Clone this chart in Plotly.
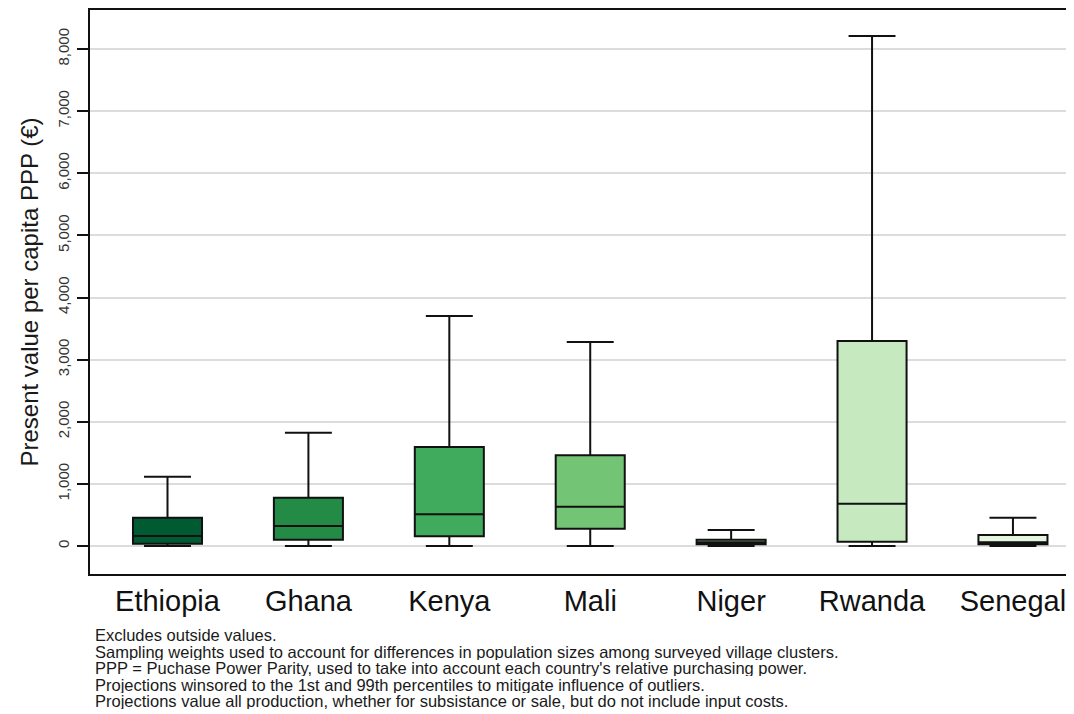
import plotly.graph_objects as go

countries = ["Ethiopia", "Ghana", "Kenya", "Mali", "Niger", "Rwanda", "Senegal"]
lower = [0, 0, 0, 0, 0, 0, 0]
q1 = [37, 101, 156, 279, 27, 69, 30]
median = [160, 322, 510, 633, 60, 681, 60]
q3 = [455, 778, 1594, 1460, 101, 3300, 177]
upper = [1116, 1825, 3704, 3285, 258, 8210, 456]
colors = ["#005a32", "#238b45", "#41ab5d", "#74c476", "#a1d99b", "#c7e9c0", "#e5f5e0"]

y_ticks = [0, 1000, 2000, 3000, 4000, 5000, 6000, 7000, 8000]
y_ticklabels = ["0", "1,000", "2,000", "3,000", "4,000", "5,000", "6,000", "7,000", "8,000"]

notes = [
    "Excludes outside values.",
    "Sampling weights used to account for differences in population sizes among surveyed village clusters.",
    "PPP = Puchase Power Parity, used to take into account each country's relative purchasing power.",
    "Projections winsored to the 1st and 99th percentiles to mitigate influence of outliers.",
    "Projections value all production, whether for subsistance or sale, but do not include input costs.",
]

fig = go.Figure()
for i, c in enumerate(countries):
    fig.add_trace(go.Box(
        x=[c], q1=[q1[i]], median=[median[i]], q3=[q3[i]],
        lowerfence=[lower[i]], upperfence=[upper[i]],
        fillcolor=colors[i], line=dict(color="#111111", width=2),
        width=0.49, whiskerwidth=0.68, boxpoints=False,
        showlegend=False, hoverinfo="skip",
    ))

W, H = 1074, 714
ML, MT, MB = 82, 2, 148
fig.update_layout(
    width=W, height=H,
    margin=dict(l=ML, r=0, t=MT, b=MB, pad=0),
    paper_bgcolor="white", plot_bgcolor="white",
    boxmode="overlay",
    font=dict(family="Liberation Sans, Arial, sans-serif", color="#1a1a1a"),
    xaxis=dict(
        type="category", categoryorder="array", categoryarray=countries,
        range=[-0.55, 6.49], showgrid=False, automargin=False,
        showline=True, linecolor="#111111", linewidth=2, mirror=True,
        ticks="", tickfont=dict(size=29, color="#111111"),
        ticklabelstandoff=0,
    ),
    yaxis=dict(
        range=[-450, 8627], tickvals=y_ticks, ticktext=y_ticklabels,
        tickangle=-90, tickfont=dict(size=15, color="#333333"), automargin=False,
        ticks="outside", ticklen=11, tickcolor="#111111", tickwidth=1.5,
        ticklabelstandoff=2,
        showgrid=True, gridcolor="#dcdcdc", gridwidth=1.5,
        zeroline=False,
        showline=True, linecolor="#111111", linewidth=2, mirror=False,
        title=dict(text="Present value per capita PPP (€)", font=dict(size=24, color="#1a1a1a"), standoff=10),
    ),
)

plot_h = H - MT - MB
plot_w = W - ML
line_px = 16.6
for k, note in enumerate(notes):
    fig.add_annotation(
        text=note, xref="paper", yref="paper",
        x=4 / plot_w, y=-(61 + k * line_px) / plot_h,
        xanchor="left", yanchor="middle", align="left", valign="middle",
        height=16, borderpad=0,
        showarrow=False, font=dict(size=16.5, color="#1a1a1a"),
    )

fig.write_html("out.html")
